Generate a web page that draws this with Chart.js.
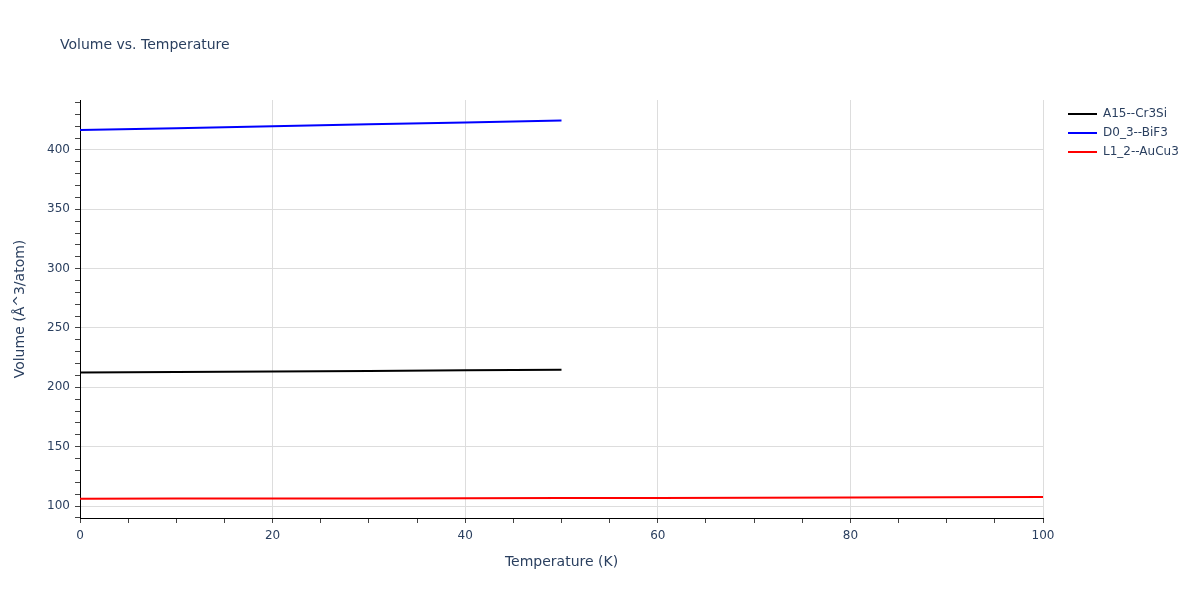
<!DOCTYPE html>
<html>
<head>
<meta charset="utf-8">
<script src="https://cdn.jsdelivr.net/npm/chart.js@4/dist/chart.umd.min.js"></script>
<style>
  html, body { margin: 0; padding: 0; background: #fff; }
  #wrap { width: 1200px; height: 600px; position: relative; }
</style>
</head>
<body>
<div id="wrap"><canvas id="chart"></canvas></div>
<script>
// --- datos ---
const tempA15 = [0, 10, 20, 30, 40, 50];
const volA15 = [212.6, 212.9, 213.3, 213.8, 214.3, 214.9];

const tempD03 = [0, 10, 20, 30, 40, 50];
const volD03 = [416.9, 418.4, 420.0, 421.6, 423.2, 424.8];

const tempL12 = [0, 10, 20, 30, 40, 50, 60, 70, 80, 90, 100];
const volL12 = [106.2, 106.25, 106.3, 106.4, 106.5, 106.65, 106.8, 106.95, 107.1, 107.3, 107.5];

const seriesNames = ["A15--Cr3Si", "D0_3--BiF3", "L1_2--AuCu3"];
const seriesColors = ["#000000", "#0000ff", "#ff0000"];

const fontFam = '"DejaVu Sans", Verdana, sans-serif';
const textColor = "#2a3f5f";

const toXY = (xs, ys) => xs.map((x, i) => ({ x: x, y: ys[i] }));

// leyenda y título dibujados a mano (estilo plotly)
const extras = {
  id: "extras",
  afterDraw(chart) {
    const ctx = chart.ctx;
    ctx.save();
    ctx.fillStyle = textColor;
    ctx.font = "14px " + fontFam;
    ctx.textBaseline = "middle";
    ctx.textAlign = "left";
    ctx.fillText("Volume vs. Temperature", 60, 45);

    ctx.font = "12px " + fontFam;
    chart.data.datasets.forEach((ds, i) => {
      const y = 114 + i * 19;
      ctx.strokeStyle = ds.borderColor;
      ctx.lineWidth = 2;
      ctx.beginPath();
      ctx.moveTo(1068, y);
      ctx.lineTo(1097, y);
      ctx.stroke();
      ctx.fillStyle = textColor;
      ctx.fillText(ds.label, 1103, y);
    });
    ctx.restore();
  }
};

new Chart(document.getElementById("chart").getContext("2d"), {
  type: "line",
  data: {
    datasets: [
      { label: seriesNames[0], data: toXY(tempA15, volA15), borderColor: seriesColors[0] },
      { label: seriesNames[1], data: toXY(tempD03, volD03), borderColor: seriesColors[1] },
      { label: seriesNames[2], data: toXY(tempL12, volL12), borderColor: seriesColors[2] }
    ]
  },
  options: {
    responsive: true,
    maintainAspectRatio: false,
    animation: false,
    layout: { padding: { top: 100, right: 157, left: 0, bottom: 0 } },
    elements: {
      line: { borderWidth: 2, tension: 0, fill: false },
      point: { radius: 0 }
    },
    plugins: {
      legend: { display: false },
      tooltip: { enabled: false }
    },
    scales: {
      x: {
        type: "linear",
        min: 0,
        max: 100,
        afterFit: s => { s.height = 82; },
        border: { display: true, color: "#000", width: 1 },
        grid: {
          color: c => (c.tick && c.tick.value % 20 === 0 && c.tick.value !== 0) ? "#dddddd" : "rgba(0,0,0,0)",
          tickColor: "#444",
          tickLength: 5
        },
        ticks: {
          stepSize: 5,
          autoSkip: false,
          maxRotation: 0,
          padding: 6,
          color: textColor,
          font: { family: fontFam, size: 12 },
          callback: v => (v % 20 === 0 ? v : "")
        },
        title: {
          display: true,
          text: "Temperature (K)",
          color: textColor,
          font: { family: fontFam, size: 14 },
          padding: { top: 0, bottom: 29 }
        }
      },
      y: {
        type: "linear",
        min: 89.9,
        max: 442.1,
        afterFit: s => { s.width = 80; },
        border: { display: true, color: "#000", width: 1 },
        grid: {
          color: c => (c.tick && c.tick.value % 50 === 0) ? "#dddddd" : "rgba(0,0,0,0)",
          tickColor: "#444",
          tickLength: 5
        },
        afterBuildTicks: s => {
          const t = [];
          for (let v = 90; v <= 440; v += 10) t.push({ value: v });
          s.ticks = t;
        },
        ticks: {
          autoSkip: false,
          padding: 5,
          color: textColor,
          font: { family: fontFam, size: 12 },
          callback: v => (v % 50 === 0 ? v : "")
        },
        title: {
          display: true,
          text: "Volume (Å^3/atom)",
          color: textColor,
          font: { family: fontFam, size: 14 },
          padding: { top: 12, bottom: 0 }
        }
      }
    }
  },
  plugins: [extras]
});
</script>
</body>
</html>
